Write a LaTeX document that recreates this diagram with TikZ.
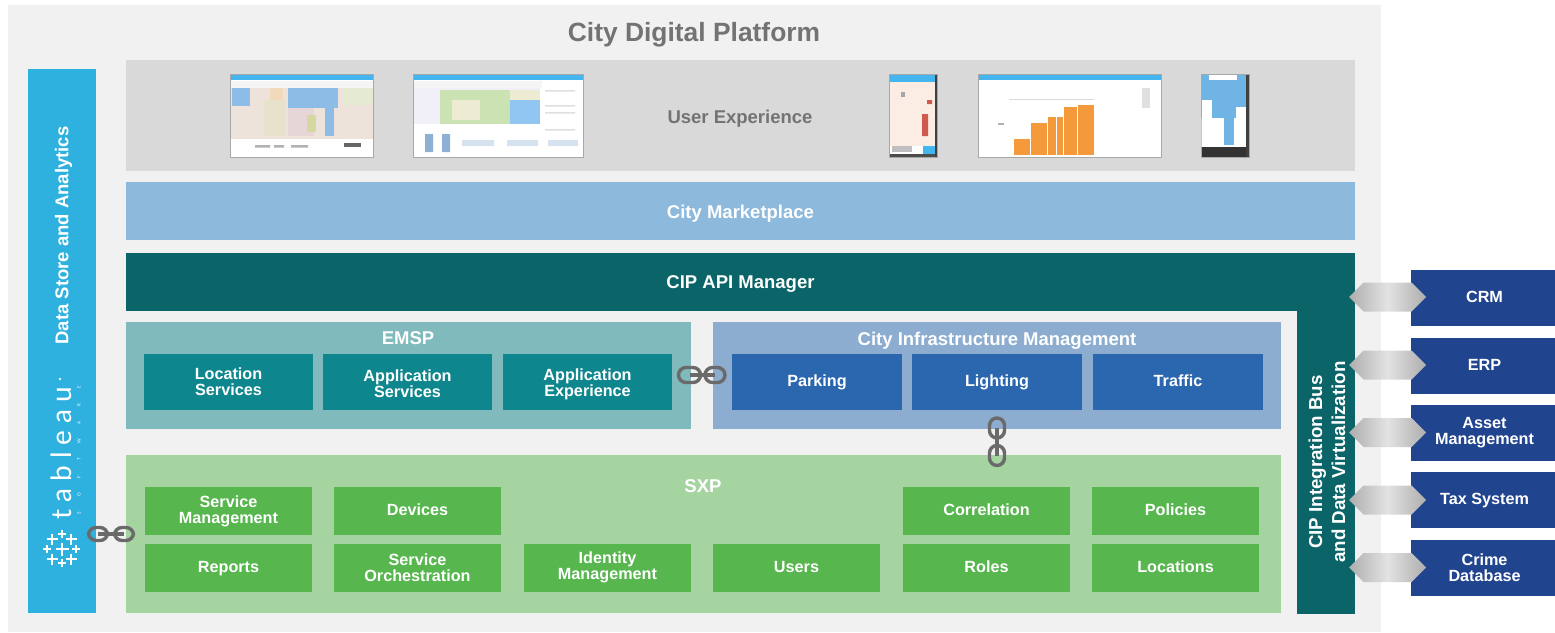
\documentclass[tikz,border=0pt]{standalone}
\usepackage{fontspec}
\setmainfont{Liberation Sans}
\newfontfamily\logofont[LetterSpace=25]{Lato}
\newfontfamily\logosmall[LetterSpace=330]{Lato}
\usetikzlibrary{shapes.arrows}
\definecolor{pageGray}{HTML}{F1F1F1}
\definecolor{uxGray}{HTML}{D9D9D9}
\definecolor{titleGray}{HTML}{737373}
\definecolor{dataBlue}{HTML}{2FB1E0}
\definecolor{marketBlue}{HTML}{8DB9DC}
\definecolor{apiTeal}{HTML}{0B6468}
\definecolor{emspBack}{HTML}{80BABD}
\definecolor{emspBox}{HTML}{0E868D}
\definecolor{infraBack}{HTML}{8CACD0}
\definecolor{infraBox}{HTML}{2A67AE}
\definecolor{sxpBack}{HTML}{A5D4A0}
\definecolor{sxpBox}{HTML}{57B64E}
\definecolor{extBlue}{HTML}{21448F}
\definecolor{linkGray}{HTML}{6A6A6A}
\definecolor{shotBlue}{HTML}{45B5F0}
\definecolor{shotEdge}{HTML}{A8A8A8}
\definecolor{shotBar}{HTML}{F5F5F5}
\definecolor{mapBeige}{HTML}{EEE3DB}
\definecolor{mapBlue}{HTML}{8DBDE6}
\definecolor{mapTan}{HTML}{E8E2CC}
\definecolor{mapOrange}{HTML}{F2D9BC}
\definecolor{mapPink}{HTML}{E6D6D8}
\definecolor{mapOlive}{HTML}{D5D8A0}
\definecolor{mapGreen}{HTML}{E5EAD2}
\definecolor{dashPale}{HTML}{F1EFF8}
\definecolor{dashGreen}{HTML}{CBE3B2}
\definecolor{dashCore}{HTML}{EDEBD2}
\definecolor{dashBlue}{HTML}{92C6F2}
\definecolor{dashBar}{HTML}{8FB0D5}
\definecolor{dashChart}{HTML}{D6E2F0}
\definecolor{phoneCream}{HTML}{FBEDE3}
\definecolor{phoneRed}{HTML}{CF5A50}
\definecolor{barOrange}{HTML}{F49A3A}
\definecolor{phoneBlue}{HTML}{6FB4E4}
\tikzset{panel/.style={inner sep=0pt, outer sep=0pt}}
\tikzset{t/.style={text=white, inner sep=0pt, align=center, font=\fontsize{16.2}{16}\selectfont\bfseries}}
\tikzset{tb/.style={text=white, inner sep=0pt, align=center, font=\fontsize{18.5}{17}\selectfont\bfseries}}
\tikzset{one/.style={execute at begin node=\rule[-4.8pt]{0pt}{19pt}}}
\tikzset{eb/.style={panel, fill=emspBox, minimum width=169, minimum height=56, t}}
\tikzset{ib/.style={panel, fill=infraBox, minimum width=170, minimum height=56, t}}
\tikzset{sb/.style={panel, fill=sxpBox, minimum width=167, minimum height=48, t}}
\tikzset{xb/.style={panel, fill=extBlue, minimum width=147, minimum height=56, t}}
\tikzset{ar/.style={double arrow, double arrow head extend=0pt, double arrow tip angle=90,
  panel, minimum height=77, minimum width=29, shade, left color=black!32, right color=black!32,
  middle color=black!11}}
\tikzset{hl/.style={panel, draw=linkGray, line width=3.4, rounded corners=7.5, minimum width=19, minimum height=13}}
\tikzset{vl/.style={panel, draw=linkGray, line width=3.4, rounded corners=7.5, minimum width=14, minimum height=19}}
\tikzset{lb/.style={draw=linkGray, line width=3.4}}
\tikzset{s/.style={draw=shotEdge, fill=white, line width=1}}
\tikzset{pl/.style={white, line width=1.1}}
\newcommand{\tplus}[3]{\draw [pl] (#1-#3,#2) -- (#1+#3,#2) (#1,#2-#3) -- (#1,#2+#3);}
\begin{document}
\begin{tikzpicture}[x=1pt,y=-1pt]
        \useasboundingbox (0,0) rectangle (1555,632);
        %% platform frame
        \node (frame) at (694.5,318.5) [panel, fill=pageGray, minimum width=1373, minimum height=627] {};
        \node (title) at (694,34.5) [text=titleGray, inner sep=0pt, font=\fontsize{26.4}{27}\selectfont\bfseries] {City Digital Platform};
        %% layers
        \node (ux) at (740.5,115.5) [panel, fill=uxGray, minimum width=1229, minimum height=111] {};
        \node (uxt) at (740,119) [text=titleGray, inner sep=0pt, font=\fontsize{18.5}{18}\selectfont\bfseries] {User Experience};
        \node (market) at (740.5,211) [panel, fill=marketBlue, minimum width=1229, minimum height=58] {};
        \node (markett) at (740.5,214) [tb] {City Marketplace};
        \node (api) at (740.5,282) [panel, fill=apiTeal, minimum width=1229, minimum height=58] {};
        \node (apit) at (740.5,284) [tb] {CIP API Manager};
        \node (bus) at (1326,462) [panel, fill=apiTeal, minimum width=58, minimum height=304] {};
        \node (bust) at (1327,462) [tb, rotate=90, font=\fontsize{18.7}{23}\selectfont\bfseries] {CIP Integration Bus\\and Data Virtualization};
        %% data store
        \node (data) at (62,341) [panel, fill=dataBlue, minimum width=68, minimum height=544] {};
        \node (datat) at (63.5,235.5) [tb, rotate=90] {Data Store and Analytics};
        \node (tab) at (61,453) [text=white, inner sep=0pt, rotate=90, font=\logofont\fontsize{28}{28}\selectfont] {tableau};
        \node (soft) at (79,450) [text=white, inner sep=0pt, rotate=90, font=\logosmall\fontsize{4.5}{5}\selectfont] {SOFTWARE};
        \node (reg) at (60,379) [panel, draw=white, line width=.4, circle, minimum size=2] {};
        \tplus{62}{549}{6.5}
        \tplus{52}{539}{5.5} \tplus{71}{539}{5.5}
        \tplus{52}{559}{5.5} \tplus{71}{559}{5.5}
        \tplus{62}{534}{4} \tplus{62}{563}{4}
        \tplus{47}{549}{4} \tplus{76}{549}{4}
        %% EMSP
        \node (emsp) at (408.5,375.5) [panel, fill=emspBack, minimum width=565, minimum height=107] {};
        \node (emspt) at (408,338.5) [tb] {EMSP};
        \node (loc) at (228.5,382) [eb] {Location\\Services};
        \node (app) at (407.5,382) [eb] {\rule{0pt}{15.5pt}Application\\Services};
        \node (exp) at (587.5,382) [eb] {\rule{0pt}{15.5pt}Application\\Experience};
        %% city infrastructure
        \node (infra) at (997,375.5) [panel, fill=infraBack, minimum width=568, minimum height=107] {};
        \node (infrat) at (997,341) [tb] {City Infrastructure Management};
        \node (park) at (817,382) [ib, one] {Parking};
        \node (light) at (997,382) [ib, one] {Lighting};
        \node (traf) at (1178,382) [ib, one] {Traffic};
        %% SXP
        \node (sxp) at (703.5,534) [panel, fill=sxpBack, minimum width=1155, minimum height=158] {};
        \node (sxpt) at (703,486) [tb] {SXP};
        \node (mgmt) at (228.5,511) [sb] {Service\\Management};
        \node (dev) at (417.5,511) [sb, one] {Devices};
        \node (corr) at (986.5,511) [sb, one] {Correlation};
        \node (pol) at (1175.5,511) [sb, one] {Policies};
        \node (rep) at (228.5,568) [sb, one] {Reports};
        \node (orch) at (417.5,567.5) [sb] {Service\\Orchestration};
        \node (iden) at (607.5,567.5) [sb] {Identity\\Management};
        \node (user) at (796.5,568) [sb, one] {Users};
        \node (role) at (986.5,568) [sb, one] {Roles};
        \node (locs) at (1175.5,568) [sb, one] {Locations};
        %% outside systems
        \node (crm) at (1484.5,298) [xb, one] {CRM};
        \node (erp) at (1484.5,365.5) [xb, one] {ERP};
        \node (asset) at (1484.5,433) [xb] {Asset\\Management};
        \node (tax) at (1484.5,500) [xb, one] {Tax System};
        \node (crime) at (1484.5,568) [xb] {Crime\\Database};
        \node (a1) at (1387.5,297) [ar] {};
        \node (a2) at (1387.5,365) [ar] {};
        \node (a3) at (1387.5,432.5) [ar] {};
        \node (a4) at (1387.5,500) [ar] {};
        \node (a5) at (1387.5,567.5) [ar] {};
        %% chains
        \node (c1) at (98,534) [hl] {};
        \node (c2) at (124,534) [hl] {};
        \draw [lb] (c1.center) to (c2.center);
        \node (c3) at (689.5,375) [hl, minimum width=22, minimum height=15] {};
        \node (c4) at (715,375) [hl, minimum width=20, minimum height=15] {};
        \draw [lb] (c3.center) to (c4.center);
        \node (c5) at (997,428) [vl, minimum width=15, minimum height=20] {};
        \node (c6) at (997,455.5) [vl, minimum width=15, minimum height=20] {};
        \draw [lb] (c5.center) to (c6.center);
        %% map shot
        \draw [s] (230.5,74) rectangle (373,157);
        \fill [shotBlue] (231,74.5) rectangle (372.5,80);
        \fill [shotBar] (231,81) rectangle (372.5,88);
        \fill [mapBeige] (231,88) rectangle (372.5,139);
        \fill [mapBlue] (288,88) rectangle (338,108);
        \fill [mapBlue] (325,108) rectangle (334,136);
        \fill [mapBlue] (232,88) rectangle (250,106);
        \fill [mapTan] (264,100) rectangle (286,136);
        \fill [mapOrange] (270,88) rectangle (283,100);
        \fill [mapPink] (288,108) rectangle (314,136);
        \fill [mapOlive] (307,115) rectangle (316,132);
        \fill [mapGreen] (343,88) rectangle (372.5,105);
        \fill [black!30] (255,145) rectangle (270,147.5) (274,145) rectangle (284,147.5) (291,145) rectangle (308,147.5);
        \fill [black!60] (344,143) rectangle (361,147);
        %% dashboard shot
        \draw [s] (413,74) rectangle (583,157);
        \fill [shotBlue] (413.5,74.5) rectangle (582.5,80);
        \fill [shotBar] (413.5,81) rectangle (542,88);
        \fill [dashPale] (414,88) rectangle (540,124);
        \fill [dashGreen] (440,90) rectangle (510,124);
        \fill [dashCore] (452,100) rectangle (480,120);
        \fill [dashBlue] (510,100) rectangle (540,124);
        \fill [dashCore] (510,90) rectangle (540,100);
        \fill [black!12] (545,90) rectangle (575,91.5) (545,105) rectangle (575,106.5) (545,112) rectangle (575,113.5) (545,129) rectangle (575,130.5);
        \fill [dashBar] (425,134) rectangle (433,152) (442,134) rectangle (450,152);
        \fill [dashChart] (462,140) rectangle (494,146) (507,140) rectangle (538,146) (548,140) rectangle (578,146);
        %% phone shot
        \draw [s] (889.5,74) rectangle (937.5,157);
        \fill [phoneCream] (890,82) rectangle (935,146);
        \fill [shotBlue] (890,74.5) rectangle (935,82);
        \fill [black!75] (934.5,74.5) rectangle (937,156.5);
        \fill [phoneRed] (922,114) rectangle (928,136) (927,100) rectangle (932,104);
        \fill [black!35] (901,92) rectangle (905,97);
        \fill [shotBlue] (923,146) rectangle (935,154);
        \fill [black!70] (890,154) rectangle (935,156.5);
        \fill [black!25] (892,146) rectangle (912,152);
        %% chart shot
        \draw [s] (978,74) rectangle (1161,157);
        \fill [shotBlue] (978.5,74.5) rectangle (1160.5,80);
        \fill [black!15] (1009,99) rectangle (1094,100);
        \fill [black!30] (998,123) rectangle (1004,125);
        \fill [barOrange] (1014,139) rectangle (1030,155);
        \fill [barOrange] (1031,123) rectangle (1047,155);
        \fill [barOrange] (1048,117) rectangle (1056,155);
        \fill [barOrange] (1057,117) rectangle (1063,155);
        \fill [barOrange] (1064,107) rectangle (1077,155);
        \fill [barOrange] (1078,105) rectangle (1094,155);
        \fill [black!12] (1142,88) rectangle (1150,108);
        %% second phone shot
        \draw [s] (1201,74) rectangle (1249,157);
        \fill [phoneBlue] (1201.5,74.5) rectangle (1246,118);
        \fill [white] (1209,75) rectangle (1237,80);
        \fill [white] (1201.5,118) rectangle (1226,147) (1236,107) rectangle (1246,147);
        \fill [white] (1201.5,100) rectangle (1212,118);
        \fill [phoneBlue] (1224,118) rectangle (1234,145);
        \fill [black!80] (1201.5,147) rectangle (1248.5,156.5);
        \fill [black!75] (1246,74.5) rectangle (1248.5,156.5);
\end{tikzpicture}
\end{document}
